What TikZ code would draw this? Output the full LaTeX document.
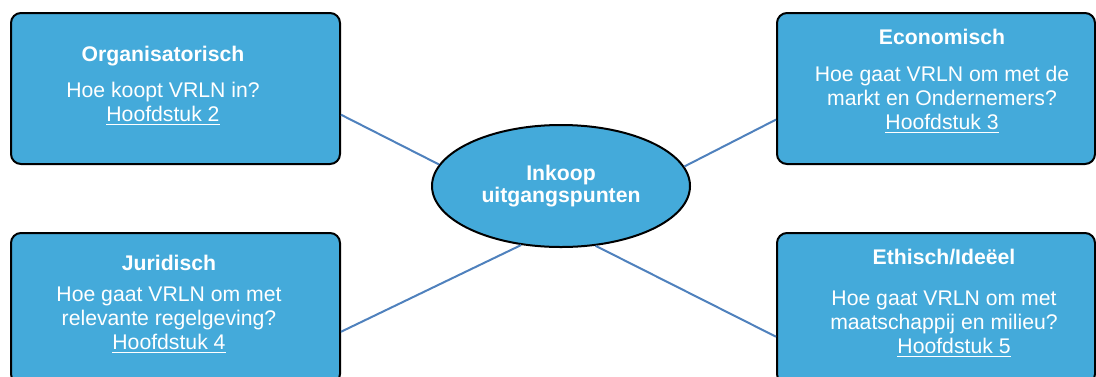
\documentclass[tikz,border=0pt]{standalone}
\usepackage{fontspec}
\setmainfont{Liberation Sans}
\usetikzlibrary{shapes.geometric}
\definecolor{boxblue}{RGB}{68,170,218}
\definecolor{lineblue}{RGB}{79,129,189}
\tikzstyle{topic} = [
	rectangle,
	rounded corners=5pt,
	minimum width=164.5pt,
	minimum height=75.5pt,
	draw=black,
	line width=1pt,
	fill=boxblue
]
\tikzstyle{hub} = [
	ellipse,
	minimum width=129pt,
	minimum height=61pt,
	draw=black,
	line width=1pt,
	fill=boxblue,
	text=white,
	align=center,
	font=\fontsize{10.6pt}{11pt}\selectfont\bfseries
]
\tikzstyle{boxtext} = [
	text=white,
	align=center,
	inner sep=0pt,
	font=\fontsize{10.6pt}{12pt}\selectfont
]
\tikzstyle{spoke} = [draw=lineblue, line width=1pt]

\begin{document}
\begin{tikzpicture}[x=0.5pt, y=-0.5pt]
		\clip (0,0) rectangle (1096,376);

		\node (center) [hub] at (561,186) {Inkoop\\uitgangspunten};

		\node (orgbox) [topic] at (175.5,88.5) {};
		\node (ecobox) [topic, minimum width=159pt] at (936,88.5) {};
		\node (jurbox) [topic] at (175.5,308.5) {};
		\node (ethbox) [topic, minimum width=159pt] at (936,308.5) {};

		\node (orgtext) [boxtext] at (163,86) {\textbf{Organisatorisch}\\[5.75pt]Hoe koopt VRLN in?\\\underline{Hoofdstuk 2}};
		\node (ecotext) [boxtext] at (942,81.5) {\textbf{Economisch}\\[6.5pt]Hoe gaat VRLN om met de\\markt en Ondernemers?\\\underline{Hoofdstuk 3}};
		\node (jurtext) [boxtext] at (169,304) {\textbf{Juridisch}\\[3.5pt]Hoe gaat VRLN om met\\relevante regelgeving?\\\underline{Hoofdstuk 4}};
		\node (ethtext) [boxtext] at (944,303.5) {\textbf{Ethisch/Ideëel}\\[8.5pt]Hoe gaat VRLN om met\\maatschappij en milieu?\\\hspace*{10pt}\underline{Hoofdstuk 5}};

		\draw [spoke] (orgbox.-9.5) -- (center.170.8);
		\draw [spoke] (center.9.8) -- (ecobox.191.5);
		\draw [spoke] (center.236.5) -- (jurbox.-8.5);
		\draw [spoke] (center.-60) -- (ethbox.190.2);
	\end{tikzpicture}
\end{document}
